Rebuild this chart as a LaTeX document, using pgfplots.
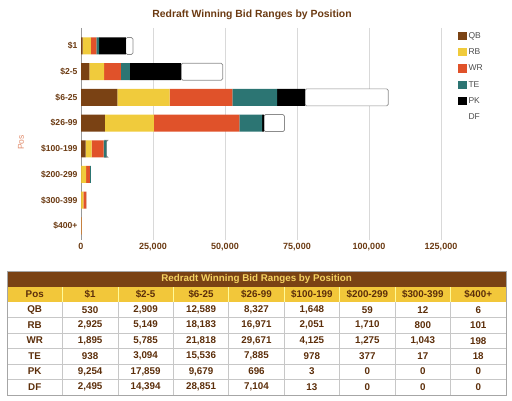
\documentclass[border=0pt]{standalone}
\usepackage{fontspec}
\setmainfont{Liberation Sans}
\usepackage{pgfplots}
\pgfplotsset{compat=1.18}
\definecolor{cQB}{HTML}{7A4214}
\definecolor{cRB}{HTML}{F0CB3C}
\definecolor{cWR}{HTML}{E0522A}
\definecolor{cTE}{HTML}{2C7573}
\definecolor{ttl}{HTML}{6B3A12}
\definecolor{tbrown}{HTML}{7A4214}
\definecolor{tyellow}{HTML}{F2C73A}
\definecolor{ttext}{HTML}{5C2E0A}
\definecolor{poscol}{HTML}{E08A6A}
\pgfkeys{/pgf/number format/.cd,1000 sep={,},assume math mode=true}
\newcommand{\trow}[2]{%
  \foreach \v [count=\c from 0] in {#2} {%
    \node[font=\bfseries\fontsize{9.8}{11}\selectfont, text=ttext] at ({7+55.44*(\c+0.5)},{98-15.45*(#1+0.5)}) {\ifnum\c=0 \v\else\pgfmathprintnumber{\v}\fi};
  }}
\pgfplotsset{sqleg/.style={legend image code/.code={\fill[##1,draw=none] (0pt,-4pt) rectangle (8.3pt,4.3pt);}}}
\begin{document}
\begin{tikzpicture}
\useasboundingbox (0pt,0pt) rectangle (512pt,400pt);
\begin{axis}[at={(81pt,160pt)}, anchor=south west, scale only axis,
  width=388.8pt, height=212pt,
  xmin=0, xmax=135000, ymin=-0.7, ymax=7.55, y dir=reverse,
  xbar stacked, bar width=17pt,
  axis line style={draw=none}, tick style={draw=none},
  xtick={0,25000,50000,75000,100000,125000},
  scaled x ticks=false,
  xticklabel style={font=\bfseries\fontsize{9}{10}\selectfont, text=ttl, /pgf/number format/.cd, fixed, 1000 sep={,}, assume math mode=true},
  xmajorgrids, grid style={draw=black!15, line width=0.8pt},
  extra x ticks={0}, extra x tick labels={}, extra x tick style={grid style={draw=black!40, line width=0.8pt}},
  ytick={0,1,2,3,4,5,6,7},
  yticklabels={\$1,\$2-5,\$6-25,\$26-99,\$100-199,\$200-299,\$300-399,\$400+},
  yticklabel style={font=\bfseries\fontsize{8.6}{10}\selectfont, text=ttl},
  legend style={at={(axis description cs:0.962,1.0)}, anchor=north west, draw=none, fill=none,
    font=\fontsize{8.5}{9.6}\selectfont, text=black!70, row sep=5pt, cells={anchor=west}},
  clip=false,
]
\addplot+[fill=cQB, draw=none, sqleg] coordinates {(530,0) (2909,1) (12589,2) (8327,3) (1648,4) (59,5) (12,6) (6,7)};
\addplot+[fill=cRB, draw=none, sqleg] coordinates {(2925,0) (5149,1) (18183,2) (16971,3) (2051,4) (1710,5) (800,6) (101,7)};
\addplot+[fill=cWR, draw=none, sqleg] coordinates {(1895,0) (5785,1) (21818,2) (29671,3) (4125,4) (1275,5) (1043,6) (198,7)};
\addplot+[fill=cTE, draw=none, sqleg] coordinates {(938,0) (3094,1) (15536,2) (7885,3) (978,4) (377,5) (17,6) (18,7)};
\addplot+[fill=black, draw=none, sqleg] coordinates {(9254,0) (17859,1) (9679,2) (696,3) (3,4) (0,5) (0,6) (0,7)};
\addplot+[fill=white, draw=black!45, line width=0.7pt, rounded corners=1.5pt, sqleg] coordinates {(2495,0) (14394,1) (28851,2) (7104,3) (13,4) (0,5) (0,6) (0,7)};
\legend{QB,RB,WR,TE,PK,DF}
\end{axis}
\begin{scope}[x=1pt,y=1pt]
\node[font=\bfseries\fontsize{10.4}{12}\selectfont, text=ttl] at (252,385.5) {Redraft Winning Bid Ranges by Position};
\node[rotate=90, font=\fontsize{8.5}{9.6}\selectfont, text=poscol] at (21,257.5) {Pos};
% table
\fill[tbrown] (7,113.3) rectangle (506,129);
\fill[tyellow] (7,97.7) rectangle (506,113.3);
\node[font=\bfseries\fontsize{9.8}{11}\selectfont, text=tyellow!80!white] at (256.5,121.2) {Redradt Winning Bid Ranges by Position};
\foreach \t [count=\c from 0] in {Pos,\$1,\$2-5,\$6-25,\$26-99,\$100-199,\$200-299,\$300-399,\$400+} {
  \node[font=\bfseries\fontsize{9.8}{11}\selectfont, text=ttext] at ({7+55.44*(\c+0.5)},105.5) {\t};
}
\foreach \c in {1,...,8} {
  \draw[yellow!40!white, line width=0.6pt] ({7+55.44*\c},97.7) -- ({7+55.44*\c},113.3);
  \draw[black!22, line width=0.6pt] ({7+55.44*\c},5) -- ({7+55.44*\c},97.7);
}
\foreach \r in {1,...,5} {
  \draw[black!22, line width=0.6pt] (7,{97.7-15.45*\r}) -- (506,{97.7-15.45*\r});
}
\draw[black!35, line width=0.6pt] (7,5) rectangle (506,129);
\trow{0}{QB,530,2909,12589,8327,1648,59,12,6}
\trow{1}{RB,2925,5149,18183,16971,2051,1710,800,101}
\trow{2}{WR,1895,5785,21818,29671,4125,1275,1043,198}
\trow{3}{TE,938,3094,15536,7885,978,377,17,18}
\trow{4}{PK,9254,17859,9679,696,3,0,0,0}
\trow{5}{DF,2495,14394,28851,7104,13,0,0,0}
\end{scope}
\end{tikzpicture}
\end{document}
